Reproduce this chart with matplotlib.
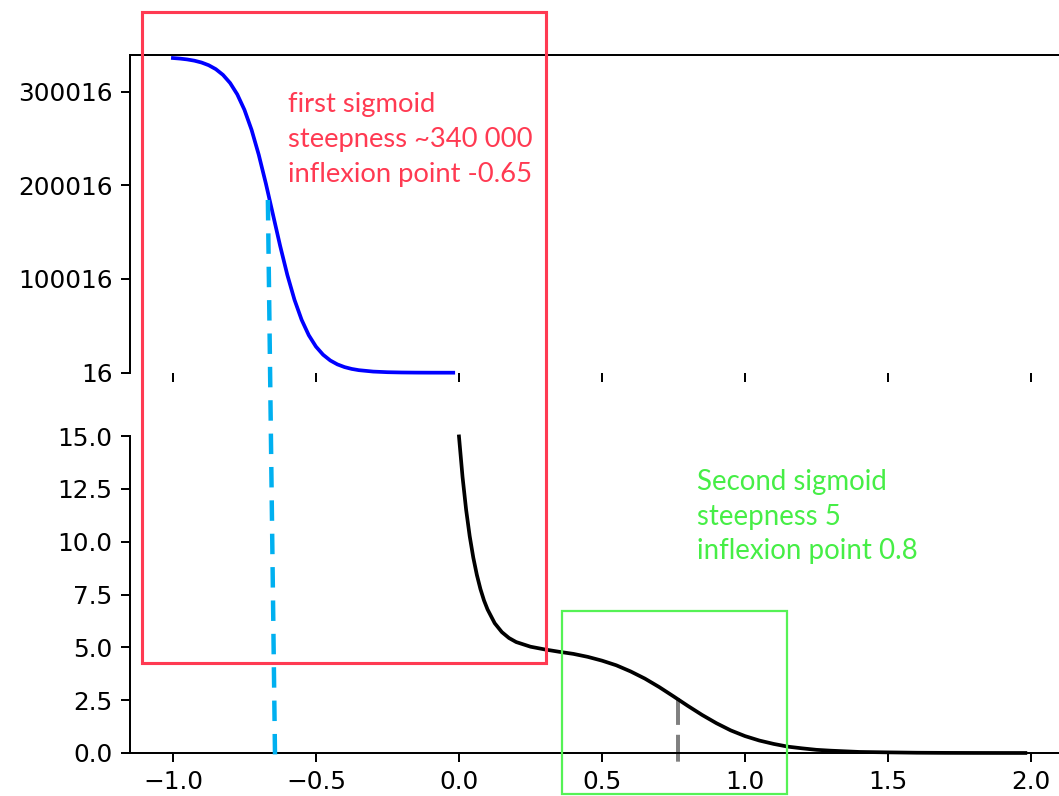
import matplotlib
matplotlib.use("Agg")
import matplotlib.pyplot as plt
from matplotlib.patches import Rectangle, ConnectionPatch
from matplotlib.transforms import Affine2D

# ---------------- data ----------------
x_first = [-1.0, -0.975, -0.95, -0.925, -0.9, -0.875, -0.85, -0.825, -0.8, -0.775,
           -0.75, -0.725, -0.7, -0.675, -0.65, -0.625, -0.6, -0.575, -0.55, -0.525,
           -0.5, -0.475, -0.45, -0.425, -0.4, -0.375, -0.35, -0.3, -0.25, -0.2,
           -0.15, -0.1, -0.05, -0.02]
y_first = [335780, 335177, 334282, 332958, 331000, 328115, 323905, 317814, 309125, 297000,
           280580, 259171, 232670, 201835, 168500, 135170, 104334, 77829, 56420, 39996,
           27874, 19191, 13098, 8885, 6002, 4043, 2718, 1224, 550, 247,
           111, 50, 27, 18]

x_second = [0.0, 0.0125, 0.025, 0.0375, 0.05, 0.0625, 0.075, 0.0875, 0.1, 0.125,
            0.15, 0.175, 0.2, 0.25, 0.3, 0.35, 0.4, 0.45, 0.5, 0.55,
            0.6, 0.65, 0.7, 0.75, 0.8, 0.85, 0.9, 0.95, 1.0, 1.05,
            1.1, 1.15, 1.2, 1.25, 1.3, 1.35, 1.4, 1.45, 1.5, 1.6,
            1.7, 1.8, 1.9, 1.98]
y_second = [14.98, 13.06, 11.51, 10.26, 9.25, 8.43, 7.76, 7.22, 6.79, 6.14,
            5.72, 5.44, 5.25, 5.03, 4.90, 4.79, 4.69, 4.55, 4.37, 4.15,
            3.86, 3.52, 3.12, 2.68, 2.23, 1.80, 1.41, 1.07, 0.80, 0.59,
            0.43, 0.30, 0.22, 0.15, 0.11, 0.08, 0.05, 0.04, 0.03, 0.013,
            0.006, 0.003, 0.0015, 0.0008]

top_yticks = [16, 100016, 200016, 300016]
bottom_yticks = [0.0, 2.5, 5.0, 7.5, 10.0, 12.5, 15.0]
xticks = [-1.0, -0.5, 0.0, 0.5, 1.0, 1.5, 2.0]

first_text = ["first sigmoid", "steepness ~340 000", "inflexion point -0.65"]
second_text = ["Second sigmoid", "steepness 5", "inflexion point 0.8"]

# dashed marker lines (data positions)
first_dash_top = (-0.668, 184300)
first_dash_bottom = (-0.643, -0.19)
second_dash_x = 0.766
second_dash_y = (2.62, -0.68)

# ---------------- figure ----------------
W, H = 1059, 796
DPI = 178
fig = plt.figure(figsize=(W / DPI, H / DPI), dpi=DPI)
fig.patch.set_facecolor("white")

def fr(x0, y_top, x1, y_bot):
    return [x0 / W, 1 - y_bot / H, (x1 - x0) / W, (y_bot - y_top) / H]

ax1 = fig.add_axes(fr(130, 55, 1074, 372.7))
ax2 = fig.add_axes(fr(130, 436, 1074, 753))

ax1.plot(x_first, y_first, color="blue", lw=1.5, clip_on=False, zorder=3)
ax2.plot(x_second, y_second, color="black", lw=1.5, clip_on=False, zorder=3)

for ax in (ax1, ax2):
    ax.set_xlim(-1.15, 2.15)
    ax.set_xticks(xticks)

ax1.set_ylim(16, 339016)
ax1.set_yticks(top_yticks)
ax1.set_yticklabels([str(v) for v in top_yticks])
ax2.set_ylim(0, 15)
ax2.set_yticks(bottom_yticks)

ax1.spines["bottom"].set_visible(False)
ax2.spines["top"].set_visible(False)
ax1.tick_params(axis="x", bottom=True, labelbottom=False, top=False)

# vertical dashed markers
cp = ConnectionPatch(xyA=first_dash_top, coordsA=ax1.transData,
                     xyB=first_dash_bottom, coordsB=ax2.transData,
                     color="#00B0F0", lw=1.8, linestyle=(0, (4.6, 2.9)),
                     capstyle="butt", zorder=4)
fig.add_artist(cp)
ax2.plot([second_dash_x, second_dash_x], list(second_dash_y), color="#808080",
         lw=1.6, linestyle=(0, (6.8, 2.5)), solid_capstyle="butt",
         dash_capstyle="butt", clip_on=False, zorder=2)

# ---------------- overlay annotations (pixel coords of the image) ----------------
px = Affine2D().scale(1 / W, -1 / H).translate(0, 1) + fig.transFigure

red = "#FF3A52"
green = "#46EE46"
fig.add_artist(Rectangle((142, 12), 404, 651, transform=px, fill=False,
                         edgecolor=red, lw=1.25, zorder=5))
fig.add_artist(Rectangle((562, 611), 225, 183, transform=px, fill=False,
                         edgecolor="#55F255", lw=0.9, zorder=5))

fig.canvas.draw()
renderer = fig.canvas.get_renderer()

def fit_size(text, target_w, family="Lato"):
    t = fig.text(0, 0, text, fontsize=10, family=family)
    w = t.get_window_extent(renderer).width
    t.remove()
    return 10 * target_w / w

s1 = fit_size(first_text[2], 245)
for line, yb in zip(first_text, [112, 147, 182]):
    fig.text(288, yb, line, transform=px, color=red, fontsize=s1,
             family="Lato", va="baseline", ha="left")

s2 = fit_size(second_text[2], 221)
for line, yb in zip(second_text, [490, 525, 559]):
    fig.text(697, yb, line, transform=px, color=green, fontsize=s2,
             family="Lato", va="baseline", ha="left")

fig.savefig("out.png", dpi=DPI)
